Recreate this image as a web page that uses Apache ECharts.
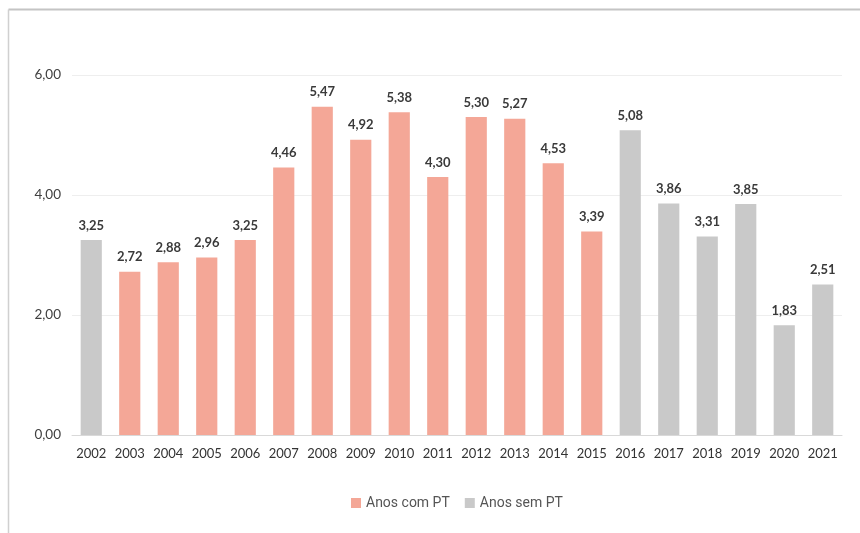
<!DOCTYPE html>
<html><head><meta charset="utf-8">
<script src="https://cdn.jsdelivr.net/npm/echarts@6/dist/echarts.min.js"></script>
<style>html,body{margin:0;padding:0;background:#fff}#c{width:860px;height:533px}</style>
</head><body><div id="c"></div>
<script>
const years = ['2002','2003','2004','2005','2006','2007','2008','2009','2010','2011','2012','2013','2014','2015','2016','2017','2018','2019','2020','2021'];
const comPT = [null,2.72,2.88,2.96,3.25,4.46,5.47,4.92,5.38,4.30,5.30,5.27,4.53,3.39,null,null,null,null,null,null];
const semPT = [3.25,null,null,null,null,null,null,null,null,null,null,null,null,null,5.08,3.86,3.31,3.85,1.83,2.51];
const seriesNames = ['Anos com PT','Anos sem PT'];
const yTicks = [0,2,4,6];

const fmt = v => v.toFixed(2).replace('.', ',');
const labelFont = 'Lato, "Open Sans", sans-serif';
const chart = echarts.init(document.getElementById('c'), null, {renderer:'canvas'});
const lbl = {show:true, position:'top', distance:8, color:'#3a3a3a', fontSize:13, fontWeight:'bold', fontFamily:labelFont,
  formatter: p => fmt(p.value)};
chart.setOption({
  animation:false,
  backgroundColor:'#fff',
  graphic:[
    {type:'line', shape:{x1:8.5,y1:9.5,x2:860,y2:9.5}, style:{stroke:'#c4c4c4', lineWidth:2}},
    {type:'line', shape:{x1:8.5,y1:9.5,x2:8.5,y2:533}, style:{stroke:'#d0d0d0', lineWidth:1.5}}
  ],
  grid:{left:72, right:18, top:75, bottom:98},
  legend:{bottom:18, left:346, itemWidth:10, itemHeight:10, itemGap:15, icon:'rect',
    textStyle:{color:'#555', fontSize:14, fontFamily:'Roboto, sans-serif'},
    data:seriesNames},
  xAxis:{type:'category', data:years,
    axisLine:{lineStyle:{color:'#d9d9d9'}}, axisTick:{show:false},
    axisLabel:{color:'#333', fontSize:13, fontFamily:labelFont, margin:12, interval:0}},
  yAxis:{type:'value', min:yTicks[0], max:yTicks[yTicks.length-1], interval:2,
    axisLine:{show:false}, axisTick:{show:false},
    splitLine:{lineStyle:{color:'#eeeeee'}},
    axisLabel:{color:'#404040', fontSize:13.5, fontFamily:labelFont, margin:11, formatter:v=>fmt(v)}},
  series:[
    {name:seriesNames[0], type:'bar', data:comPT, barWidth:'55%', barGap:'-100%', itemStyle:{color:'#F4A797'}, label:lbl},
    {name:seriesNames[1], type:'bar', data:semPT, barWidth:'55%', barGap:'-100%', itemStyle:{color:'#C9C9C9'}, label:lbl}
  ]
});
</script></body></html>
